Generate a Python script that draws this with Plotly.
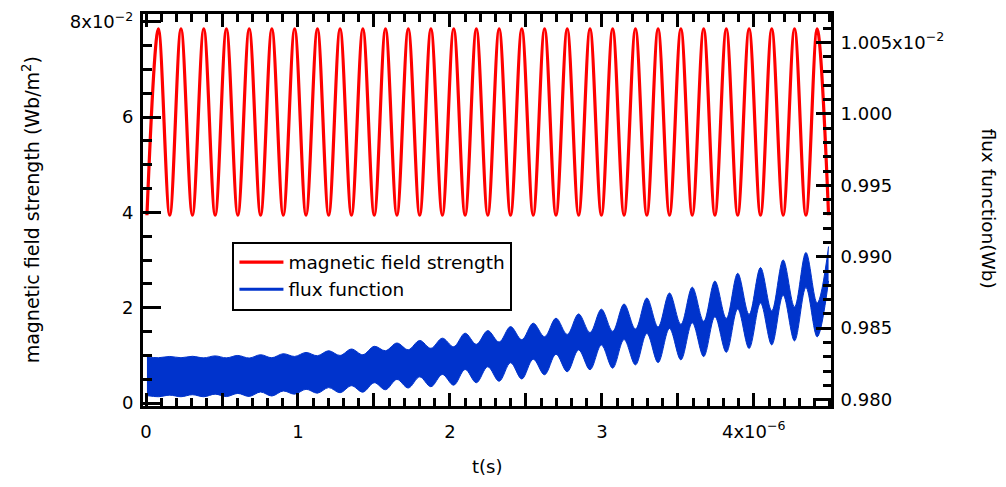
import plotly.graph_objects as go

# ---------------- data ----------------
# times (microseconds) of the minima of the field strength (= crests of the flux oscillation)
crest_t_us = [0.006, 0.156, 0.305, 0.455, 0.604, 0.754, 0.903, 1.053, 1.202, 1.352,
              1.502, 1.651, 1.801, 1.950, 2.100, 2.249, 2.399, 2.548, 2.698, 2.847,
              2.997, 3.146, 3.296, 3.445, 3.595, 3.744, 3.894, 4.044, 4.193, 4.343, 4.492]
# times (microseconds) of the maxima of the field strength (= dips of the flux oscillation)
dip_t_us = [0.081, 0.230, 0.380, 0.529, 0.679, 0.828, 0.978, 1.128, 1.277, 1.427,
            1.576, 1.726, 1.875, 2.025, 2.174, 2.324, 2.473, 2.623, 2.772, 2.922,
            3.071, 3.221, 3.370, 3.520, 3.670, 3.819, 3.969, 4.118, 4.268, 4.417]

# magnetic field strength (x1e-2 Wb/m^2) at its minima and maxima
field_min = [3.94, 3.94, 3.94, 3.94, 3.94, 3.94, 3.94, 3.94, 3.94, 3.94,
             3.94, 3.94, 3.94, 3.94, 3.94, 3.94, 3.94, 3.94, 3.94, 3.94,
             3.94, 3.94, 3.94, 3.94, 3.94, 3.94, 3.94, 3.94, 3.94, 3.94, 3.94]
field_max = [7.85, 7.85, 7.85, 7.85, 7.85, 7.85, 7.85, 7.85, 7.85, 7.85,
             7.85, 7.85, 7.85, 7.85, 7.85, 7.85, 7.85, 7.85, 7.85, 7.85,
             7.85, 7.85, 7.85, 7.85, 7.85, 7.85, 7.85, 7.85, 7.85, 7.85]

# flux function band (x1e-2 Wb): upper / lower edge of the fast oscillation
flux_upper_crest = [0.98300, 0.98302, 0.98303, 0.98306, 0.98309, 0.98314, 0.98321, 0.98330,
                    0.98342, 0.98354, 0.98373, 0.98396, 0.98414, 0.98430, 0.98465, 0.98483,
                    0.98511, 0.98535, 0.98570, 0.98600, 0.98633, 0.98669, 0.98711, 0.98746,
                    0.98787, 0.98830, 0.98884, 0.98924, 0.98978, 0.99030, 0.99072]
flux_lower_crest = [0.98028, 0.98031, 0.98034, 0.98038, 0.98043, 0.98053, 0.98060, 0.98072,
                    0.98084, 0.98097, 0.98118, 0.98141, 0.98159, 0.98176, 0.98211, 0.98230,
                    0.98258, 0.98283, 0.98318, 0.98348, 0.98382, 0.98420, 0.98463, 0.98498,
                    0.98538, 0.98580, 0.98634, 0.98676, 0.98731, 0.98785, 0.98831]
flux_upper_dip = [0.98293, 0.98293, 0.98292, 0.98292, 0.98291, 0.98293, 0.98302, 0.98307,
                  0.98309, 0.98314, 0.98342, 0.98349, 0.98359, 0.98370, 0.98387, 0.98403,
                  0.98419, 0.98440, 0.98456, 0.98469, 0.98478, 0.98494, 0.98509, 0.98527,
                  0.98548, 0.98568, 0.98596, 0.98621, 0.98649, 0.98676]
flux_lower_dip = [0.98020, 0.98020, 0.98020, 0.98021, 0.98022, 0.98025, 0.98038, 0.98045,
                  0.98048, 0.98052, 0.98069, 0.98081, 0.98090, 0.98101, 0.98118, 0.98128,
                  0.98144, 0.98174, 0.98195, 0.98209, 0.98220, 0.98243, 0.98259, 0.98278,
                  0.98301, 0.98331, 0.98358, 0.98383, 0.98411, 0.98439]

x_tick_vals_us = [0, 0.5, 1, 1.5, 2, 2.5, 3, 3.5, 4]
x_tick_text = ["0", "", "1", "", "2", "", "3", "", "4x10<sup>−6</sup>"]
y1_tick_vals = [0, 2, 4, 6, 8]
y1_tick_text = ["0", "2", "4", "6", "8x10<sup>−2</sup>"]
y2_tick_vals = [0.980, 0.985, 0.990, 0.995, 1.000, 1.005]
y2_tick_text = ["0.980", "0.985", "0.990", "0.995", "1.000", "1.005x10<sup>−2</sup>"]

# ---------------- build ordered series ----------------
def merge(t_a, v_a, t_b, v_b):
    pts = sorted(list(zip(t_a, v_a)) + list(zip(t_b, v_b)))
    return [p[0] * 1e-6 for p in pts], [p[1] for p in pts]

t_field, field = merge(crest_t_us, field_min, dip_t_us, field_max)
field = [v * 1e-2 for v in field]
t_up, flux_up = merge(crest_t_us, flux_upper_crest, dip_t_us, flux_upper_dip)
t_lo, flux_lo = merge(crest_t_us, flux_lower_crest, dip_t_us, flux_lower_dip)
flux_up = [v * 1e-2 for v in flux_up]
flux_lo = [v * 1e-2 for v in flux_lo]

RED = "#ff0000"
BLUE = "#0033cc"
FONT = "DejaVu Sans"

fig = go.Figure()
fig.add_trace(go.Scatter(x=t_field, y=field, mode="lines",
                         line=dict(color=RED, width=3.2, shape="spline"),
                         name="magnetic field strength", legendrank=1))
fig.add_trace(go.Scatter(x=t_up, y=flux_up, yaxis="y2", mode="lines",
                         line=dict(color=BLUE, width=1, shape="spline"),
                         showlegend=False, hoverinfo="skip"))
fig.add_trace(go.Scatter(x=t_lo, y=flux_lo, yaxis="y2", mode="lines",
                         line=dict(color=BLUE, width=1, shape="spline"),
                         fill="tonexty", fillcolor=BLUE,
                         showlegend=False, hoverinfo="skip"))
fig.add_trace(go.Scatter(x=[None], y=[None], yaxis="y2", mode="lines",
                         line=dict(color=BLUE, width=3), name="flux function",
                         legendrank=2))

axis_common = dict(showgrid=False, zeroline=False, showline=True, linecolor="black",
                   linewidth=3, ticks="inside", tickcolor="black", tickwidth=3,
                   automargin=False,
                   tickfont=dict(family=FONT, size=18, color="black"))

fig.update_layout(
    width=1006, height=487,
    margin=dict(l=143, r=175, t=14, b=81),
    paper_bgcolor="white", plot_bgcolor="white",
    font=dict(family=FONT, size=18, color="black"),
    xaxis=dict(**axis_common, range=[-0.02e-6, 4.508e-6], mirror="ticks",
               tickmode="array", tickvals=[v * 1e-6 for v in x_tick_vals_us],
               ticktext=x_tick_text, ticklen=13, ticklabelstandoff=7,
               minor=dict(ticks="inside", tickmode="linear", tick0=0, dtick=1e-7,
                          ticklen=8, tickwidth=2.5, tickcolor="black")),
    yaxis=dict(**axis_common, range=[-0.063e-2, 8.163e-2],
               tickmode="array", tickvals=[v * 1e-2 for v in y1_tick_vals],
               ticktext=y1_tick_text, ticklen=18, ticklabelstandoff=3,
               minor=dict(ticks="inside", tickmode="linear", tick0=0, dtick=0.005,
                          ticklen=9, tickwidth=2.5, tickcolor="black")),
    yaxis2=dict(**axis_common, overlaying="y", side="right",
                range=[0.97955e-2, 1.0070e-2],
                tickmode="array", tickvals=[v * 1e-2 for v in y2_tick_vals],
                ticktext=y2_tick_text, ticklen=15, ticklabelstandoff=3,
                minor=dict(ticks="inside", tickmode="linear", tick0=0.0098, dtick=0.00001,
                           ticklen=8, tickwidth=2.5, tickcolor="black")),
    legend=dict(x=0.13, y=0.4195, xanchor="left", yanchor="top",
                bgcolor="white", bordercolor="black", borderwidth=2,
                font=dict(family=FONT, size=18.5, color="black"),
                itemwidth=44,
                traceorder="normal", tracegroupgap=0),
    annotations=[
        dict(text="magnetic field strength (Wb/m<sup>2</sup>)", xref="paper", yref="paper",
             x=-0.1623, y=0.5, textangle=-90, showarrow=False,
             xanchor="center", yanchor="middle", font=dict(family=FONT, size=19)),
        dict(text="flux function(Wb)", xref="paper", yref="paper",
             x=1.229, y=0.505, textangle=90, showarrow=False,
             xanchor="center", yanchor="middle", font=dict(family=FONT, size=18.5)),
        dict(text="t(s)", xref="paper", yref="paper",
             x=0.5, y=-0.155, showarrow=False,
             xanchor="center", yanchor="middle", font=dict(family=FONT, size=18)),
    ],
)

fig.write_html("out.html",
               config={"displayModeBar": False},
               post_script="document.body.style.margin='0';"
                           "document.body.style.padding='0';"
                           "document.body.style.overflow='hidden';")
